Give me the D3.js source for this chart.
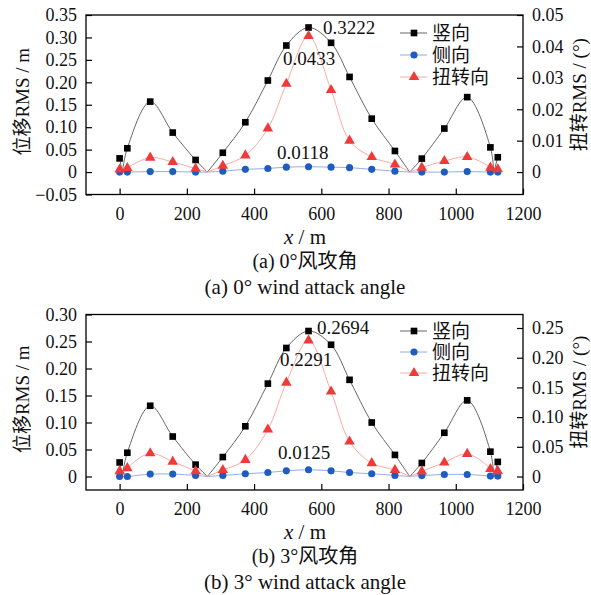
<!DOCTYPE html>
<html>
<head>
<meta charset="utf-8">
<script src="https://cdn.jsdelivr.net/npm/d3@7"></script>
<style>
  body { margin: 0; background: #fff; }
  svg { display: block; }
  svg text { font-family: "Liberation Serif", "Times New Roman", "Noto Sans CJK SC", serif; fill: #111; }
</style>
</head>
<body>
<svg id="chart" width="591" height="595"></svg>
<script>
// positions along the bridge (m) of the measured points
const xPos = [0, 23, 91, 158, 226, 307, 374, 441, 496, 562, 629, 684, 750, 819, 899, 966, 1034, 1103, 1125];
// supports, where every curve goes back to zero (no marker drawn)
const supports = [8, 261, 863, 1113];

// (a) 0 deg
const vert0 = [0.0305, 0.053, 0.157, 0.088, 0.027, 0.043, 0.111, 0.204, 0.282, 0.3222, 0.288, 0.212, 0.119, 0.047, 0.030, 0.097, 0.167, 0.055, 0.033];
const lat0  = [0.0, 0.0, 0.001, 0.001, 0.0, 0.002, 0.006, 0.008, 0.011, 0.0118, 0.011, 0.0098, 0.006, 0.002, 0.0, 0.0, 0.001, 0.0, 0.0];
const tor0  = [0.0008, 0.0013, 0.0046, 0.0032, 0.0011, 0.002, 0.0053, 0.0139, 0.0281, 0.0433, 0.0261, 0.010, 0.0048, 0.0024, 0.0014, 0.0035, 0.0048, 0.0014, 0.0009];

// (b) 3 deg
const vert3 = [0.026, 0.044, 0.131, 0.074, 0.022, 0.036, 0.093, 0.172, 0.238, 0.2694, 0.244, 0.179, 0.100, 0.040, 0.025, 0.081, 0.141, 0.046, 0.027];
const lat3  = [0.0, 0.0, 0.0044, 0.0044, 0.002, 0.002, 0.005, 0.0074, 0.0105, 0.0125, 0.0105, 0.0074, 0.005, 0.002, 0.0017, 0.0037, 0.0037, 0.0007, 0.0007];
const tor3  = [0.009, 0.014, 0.039, 0.025, 0.009, 0.011, 0.028, 0.079, 0.158, 0.2291, 0.143, 0.059, 0.0225, 0.011, 0.0085, 0.0236, 0.038, 0.0125, 0.009];

const xTicks = [0, 200, 400, 600, 800, 1000, 1200];
const leftTicks0 = [-0.05, 0, 0.05, 0.10, 0.15, 0.20, 0.25, 0.30, 0.35];
const rightTicks0 = [0, 0.01, 0.02, 0.03, 0.04, 0.05];
const leftTicks3 = [0, 0.05, 0.10, 0.15, 0.20, 0.25, 0.30];
const rightTicks3 = [0, 0.05, 0.10, 0.15, 0.20, 0.25];

const seriesNames = ["竖向", "侧向", "扭转向"];

const svg = d3.select("#chart");

const x = d3.scaleLinear().domain([-100, 1200]).range([86, 523]);

function fmt(v) {
  if (Math.abs(v) < 1e-9) return "0";
  return (v < 0 ? "\u22120" : "0") + d3.format(".2f")(Math.abs(v)).slice(1);
}

function segments(vals) {
  const pts = xPos.map((px, i) => ({ x: px, y: vals[i] }))
    .concat(supports.map(px => ({ x: px, y: 0, s: true })))
    .sort((a, b) => a.x - b.x);
  const segs = [];
  let cur = [];
  pts.forEach(p => {
    cur.push(p);
    if (p.s) { segs.push(cur); cur = [p]; }
  });
  if (cur.length > 1) segs.push(cur);
  return segs;
}

const styles = [
  { line: "#555", mark: "#000", sym: d3.symbolSquare, size: 44 },
  { line: "#86a3de", mark: "#1f5cbf", sym: d3.symbolCircle, size: 40 },
  { line: "#f7a09a", mark: "#f03a3a", sym: d3.symbolTriangle, size: 48 }
];

function panel(cfg) {
  const yL = d3.scaleLinear().domain(cfg.leftDomain).range([cfg.bottom, cfg.top]);
  const yR = d3.scaleLinear().domain(cfg.rightDomain).range([cfg.bottom, cfg.top]);
  const g = svg.append("g");

  // axes, ticks pointing inward
  const ax = g.append("g").attr("transform", `translate(0,${cfg.bottom})`)
    .call(d3.axisBottom(x).tickValues(xTicks).tickFormat(d3.format("d")).tickSizeInner(-6).tickSizeOuter(0).tickPadding(10));
  const al = g.append("g").attr("transform", `translate(${x.range()[0]},0)`)
    .call(d3.axisLeft(yL).tickValues(cfg.leftTicks).tickFormat(fmt).tickSizeInner(-6).tickSizeOuter(0).tickPadding(9));
  const ar = g.append("g").attr("transform", `translate(${x.range()[1]},0)`)
    .call(d3.axisRight(yR).tickValues(cfg.rightTicks).tickFormat(fmt).tickSizeInner(-6).tickSizeOuter(0).tickPadding(9));
  [ax, al, ar].forEach(a => {
    a.attr("font-family", null).attr("font-size", null);
    a.select(".domain").remove();
    a.selectAll("line").attr("stroke", "#000").attr("stroke-width", 1.2);
    a.selectAll("text").attr("fill", null).style("font-size", "18px");
  });
  ax.selectAll("text").attr("dy", "0.85em");

  g.append("rect")
    .attr("x", x.range()[0]).attr("y", cfg.top)
    .attr("width", x.range()[1] - x.range()[0]).attr("height", cfg.bottom - cfg.top)
    .attr("fill", "none").attr("stroke", "#000").attr("stroke-width", 1.3);

  const data = [
    { vals: cfg.vert, y: yL },
    { vals: cfg.lat, y: yL },
    { vals: cfg.tor, y: yR }
  ];

  data.forEach((d, k) => {
    const line = d3.line().x(p => x(p.x)).y(p => d.y(p.y)).curve(d3.curveCatmullRom.alpha(0.5));
    g.append("g").selectAll("path").data(segments(d.vals)).join("path")
      .attr("d", line).attr("fill", "none")
      .attr("stroke", styles[k].line).attr("stroke-width", 0.9);
  });
  data.forEach((d, k) => {
    g.append("g").selectAll("path").data(d.vals).join("path")
      .attr("transform", (v, i) => `translate(${x(xPos[i])},${d.y(v)})`)
      .attr("d", d3.symbol().type(styles[k].sym).size(styles[k].size))
      .attr("fill", styles[k].mark);
  });

  // peak labels
  cfg.notes.forEach(n => {
    g.append("text").attr("x", n.x).attr("y", n.y)
      .attr("dominant-baseline", "central").style("font-size", "19px")
      .text(n.t);
  });

  // legend
  seriesNames.forEach((name, k) => {
    const ly = cfg.legendY[k];
    g.append("line").attr("x1", 400).attr("x2", 427).attr("y1", ly).attr("y2", ly)
      .attr("stroke", styles[k].line).attr("stroke-width", 0.9);
    g.append("path").attr("transform", `translate(414,${ly})`)
      .attr("d", d3.symbol().type(styles[k].sym).size(styles[k].size))
      .attr("fill", styles[k].mark);
    g.append("text").attr("x", 432).attr("y", ly).attr("dominant-baseline", "central")
      .style("font-size", "19px").text(name);
  });

  // axis titles
  const midY = (cfg.top + cfg.bottom) / 2;
  g.append("text").attr("transform", `translate(22,${midY - 3}) rotate(-90)`)
    .attr("text-anchor", "middle").attr("dominant-baseline", "central").style("font-size", "19px")
    .text("位移RMS / m");
  g.append("text").attr("transform", `translate(579,${midY - 10}) rotate(-90)`)
    .attr("text-anchor", "middle").attr("dominant-baseline", "central").style("font-size", "19px")
    .text("扭转RMS / (°)");
  const xt = g.append("text").attr("x", 305).attr("y", cfg.bottom + 42)
    .attr("text-anchor", "middle").attr("dominant-baseline", "central").style("font-size", "21px");
  xt.append("tspan").attr("font-style", "italic").text("x");
  xt.append("tspan").text(" / m");

  g.append("text").attr("x", 305).attr("y", cfg.bottom + 66)
    .attr("text-anchor", "middle").attr("dominant-baseline", "central").style("font-size", "20px")
    .text(cfg.cap1);
  g.append("text").attr("x", 305).attr("y", cfg.bottom + 92)
    .attr("text-anchor", "middle").attr("dominant-baseline", "central").style("font-size", "21px")
    .text(cfg.cap2);
}

panel({
  top: 15, bottom: 194.5,
  leftDomain: [-0.05, 0.35], rightDomain: [-0.05 / 7, 0.05],
  leftTicks: leftTicks0, rightTicks: rightTicks0,
  vert: vert0, lat: lat0, tor: tor0,
  notes: [{ x: 323, y: 27, t: "0.3222" }, { x: 283, y: 58, t: "0.0433" }, { x: 277, y: 152, t: "0.0118" }],
  legendY: [33, 55, 77],
  cap1: "(a) 0°风攻角", cap2: "(a) 0° wind attack angle"
});

panel({
  top: 314.5, bottom: 490,
  leftDomain: [-0.025, 0.30], rightDomain: [-0.025 / 1.1, 0.30 / 1.1],
  leftTicks: leftTicks3, rightTicks: rightTicks3,
  vert: vert3, lat: lat3, tor: tor3,
  notes: [{ x: 317, y: 327, t: "0.2694" }, { x: 280, y: 359, t: "0.2291" }, { x: 278, y: 452, t: "0.0125" }],
  legendY: [331, 352, 373],
  cap1: "(b) 3°风攻角", cap2: "(b) 3° wind attack angle"
});
</script>
</body>
</html>
